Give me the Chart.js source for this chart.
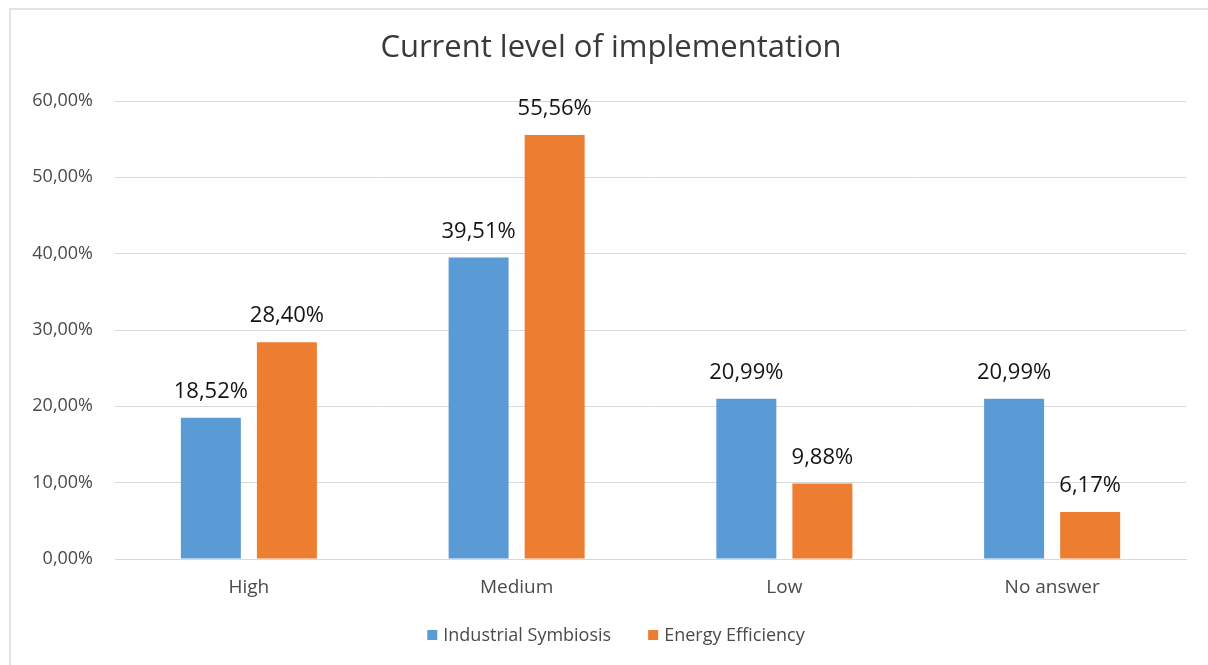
<!DOCTYPE html>
<html>
<head>
<meta charset="utf-8">
<script src="https://cdn.jsdelivr.net/npm/chart.js@4/dist/chart.umd.min.js"></script>
<style>
  html, body { margin: 0; padding: 0; background: #fff; }
  #wrap { position: relative; width: 1208px; height: 665px; overflow: hidden; }
  #frame { position: absolute; left: 9px; top: 8px; width: 1300px; height: 700px;
           border-top: 2px solid #e3e3e3; border-left: 2px solid #e3e3e3; box-sizing: border-box; }
  canvas { position: absolute; left: 0; top: 0; }
</style>
</head>
<body>
<div id="wrap">
  <div id="frame"></div>
  <canvas id="c" width="1208" height="665"></canvas>
</div>
<script>
// Survey results: share of respondents per implementation level (%)
const categories = ['High', 'Medium', 'Low', 'No answer'];
const industrialSymbiosis = [18.52, 39.51, 20.99, 20.99];
const energyEfficiency = [28.40, 55.56, 9.88, 6.17];
const seriesNames = ['Industrial Symbiosis', 'Energy Efficiency'];
const yTicks = { min: 0, max: 60, step: 10 };
const chartTitle = 'Current level of implementation';

const FONT = '"Open Sans", "Liberation Sans", sans-serif';
const BLUE = '#5B9BD5';
const ORANGE = '#ED7D31';

const fmt = v => v.toFixed(2).replace('.', ',') + '%';

// Value labels above each bar
const valueLabels = {
  id: 'valueLabels',
  afterDatasetsDraw(chart) {
    const ctx = chart.ctx;
    ctx.save();
    ctx.font = '22px ' + FONT;
    ctx.fillStyle = '#141414';
    ctx.textAlign = 'center';
    ctx.textBaseline = 'middle';
    chart.data.datasets.forEach((ds, i) => {
      chart.getDatasetMeta(i).data.forEach((bar, j) => {
        ctx.fillText(fmt(ds.data[j]), bar.x, bar.y - 26);
      });
    });
    ctx.restore();
  }
};

// Title and legend row
const decorations = {
  id: 'decorations',
  afterDraw(chart) {
    const ctx = chart.ctx;
    ctx.save();
    ctx.fillStyle = '#3a3a3a';
    ctx.font = '31px ' + FONT;
    ctx.textAlign = 'center';
    ctx.textBaseline = 'middle';
    ctx.fillText(chartTitle, 611, 48);

    ctx.font = '18px ' + FONT;
    ctx.textAlign = 'left';
    const colors = [BLUE, ORANGE];
    const box = 10, gapBox = 6, gapItem = 37;
    const widths = seriesNames.map(n => ctx.measureText(n).width);
    let total = 0;
    widths.forEach((w, i) => { total += box + gapBox + w + (i ? gapItem : 0); });
    let x = 616 - total / 2;
    const y = 635;
    seriesNames.forEach((n, i) => {
      ctx.fillStyle = colors[i];
      ctx.fillRect(x, y - box / 2, box, box);
      ctx.fillStyle = '#4a4a4a';
      ctx.fillText(n, x + box + gapBox, y + 1);
      x += box + gapBox + widths[i] + gapItem;
    });
    ctx.restore();
  }
};

new Chart(document.getElementById('c'), {
  type: 'bar',
  data: {
    labels: categories,
    datasets: [
      { label: seriesNames[0], data: industrialSymbiosis, backgroundColor: BLUE },
      { label: seriesNames[1], data: energyEfficiency, backgroundColor: ORANGE }
    ]
  },
  options: {
    responsive: false,
    animation: false,
    events: [],
    layout: { padding: { top: 101, left: 0, right: 22, bottom: 60 } },
    plugins: { legend: { display: false }, title: { display: false }, tooltip: { enabled: false } },
    datasets: { bar: { categoryPercentage: 0.568, barPercentage: 0.789 } },
    scales: {
      x: {
        grid: { display: false, drawTicks: false },
        border: { display: true, color: '#d9d9d9', width: 1 },
        ticks: { color: '#4a4a4a', font: { family: FONT, size: 19 }, padding: 17 },
        afterFit(s) { s.height = 46; }
      },
      y: {
        min: yTicks.min, max: yTicks.max,
        grid: { color: '#d9d9d9', lineWidth: 1, drawTicks: false },
        border: { display: false },
        ticks: { stepSize: yTicks.step, color: '#4a4a4a', font: { family: FONT, size: 18 },
                 padding: 22, callback: v => fmt(v) },
        afterFit(s) { s.width = 115; }
      }
    }
  },
  plugins: [valueLabels, decorations]
});
</script>
</body>
</html>
